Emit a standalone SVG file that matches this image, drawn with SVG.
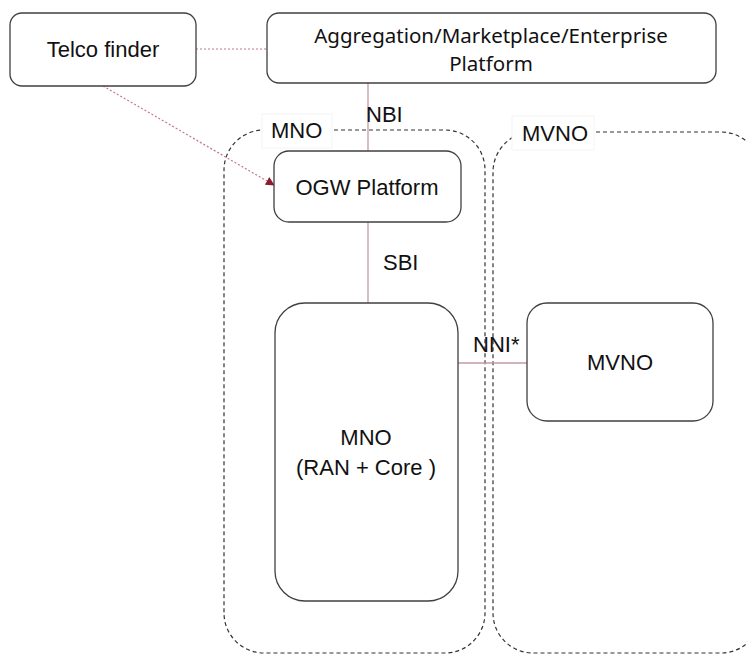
<svg xmlns="http://www.w3.org/2000/svg" width="747" height="655" viewBox="0 0 747 655">
<style>
.box{fill:#fff;stroke:#404040;stroke-width:1.3}
.grp{fill:none;stroke:#333;stroke-width:1.2;stroke-dasharray:4 3}
.t{font-family:"Liberation Sans",Arial,sans-serif;font-size:22px;fill:#111}
.ts{font-family:"Noto Sans","Open Sans",sans-serif;font-size:20.5px;fill:#111}
.solid{stroke:#c49aa3;stroke-width:1.3;fill:none}
.dot{stroke:#c47888;stroke-width:1.2;stroke-dasharray:2 2;fill:none}
.lbl{fill:#fff;stroke:#f4f4f4;stroke-width:1}
</style>
<defs>
<marker id="ah" viewBox="0 0 10 10" refX="9" refY="5" markerWidth="9" markerHeight="9" markerUnits="userSpaceOnUse" orient="auto">
<path d="M0,0 L10,5 L0,10 z" fill="#8c1c30"/>
</marker>
</defs>
<g id="mno-group">
<rect class="grp" x="224" y="130" width="261" height="523" rx="40"/>
<rect class="lbl" x="262" y="114" width="70" height="34"/>
<text class="t" x="271" y="138">MNO</text>
</g>
<g id="mvno-group">
<rect class="grp" x="493" y="132" width="268" height="521" rx="40"/>
<rect class="lbl" x="512" y="116" width="82" height="34"/>
<text class="t" x="522" y="141">MVNO</text>
</g>
<g id="connectors">
<line class="dot" x1="196" y1="49" x2="267" y2="49"/>
<line class="dot" x1="103" y1="86" x2="274" y2="185" marker-end="url(#ah)"/>
<line class="solid" x1="368" y1="83" x2="368" y2="151"/>
<line class="solid" x1="368" y1="222" x2="368" y2="303"/>
<line class="solid" x1="458" y1="363" x2="527" y2="363"/>
<text class="t" x="366" y="122">NBI</text>
<text class="t" x="383" y="270">SBI</text>
<text class="t" x="473" y="352" font-size="21">NNI*</text>
</g>
<g id="telco-finder">
<rect class="box" x="10" y="13" width="186" height="73" rx="12"/>
<text class="t" x="103" y="57" text-anchor="middle" font-size="21">Telco finder</text>
</g>
<g id="aggregation">
<rect class="box" x="267" y="13" width="449" height="70" rx="12"/>
<text class="ts" text-anchor="middle"><tspan x="491" y="42.5">Aggregation/Marketplace/Enterprise</tspan><tspan x="491" y="70.5">Platform</tspan></text>
</g>
<g id="ogw">
<rect class="box" x="274" y="151" width="187" height="71" rx="15"/>
<text class="t" x="367" y="195" text-anchor="middle">OGW Platform</text>
</g>
<g id="mno">
<rect class="box" x="275" y="303" width="183" height="298" rx="30"/>
<text class="t" text-anchor="middle"><tspan x="366" y="445">MNO</tspan><tspan x="366" y="475">(RAN + Core )</tspan></text>
</g>
<g id="mvno">
<rect class="box" x="527" y="303" width="186" height="118" rx="20"/>
<text class="t" x="620" y="370" text-anchor="middle">MVNO</text>
</g>
</svg>
